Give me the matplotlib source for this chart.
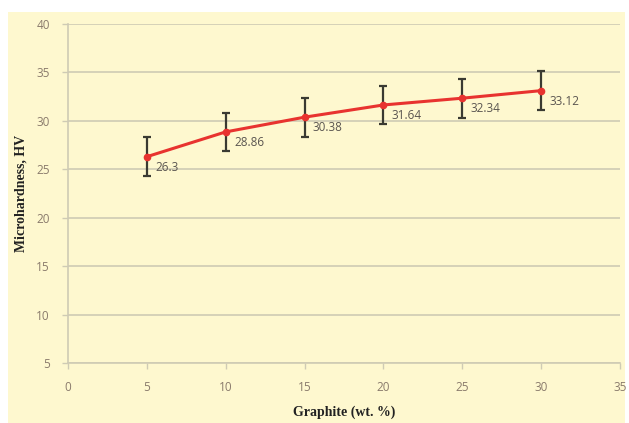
import matplotlib
matplotlib.use("Agg")
import matplotlib.pyplot as plt
from matplotlib.patches import Rectangle

graphite = [5, 10, 15, 20, 25, 30]
hardness = [26.3, 28.86, 30.38, 31.64, 32.34, 33.12]
errors = [2.0, 2.0, 2.0, 2.0, 2.0, 2.0]
value_labels = ["26.3", "28.86", "30.38", "31.64", "32.34", "33.12"]
x_ticks = [0, 5, 10, 15, 20, 25, 30, 35]
y_ticks = [5, 10, 15, 20, 25, 30, 35, 40]

W, H = 629, 423
fig = plt.figure(figsize=(W / 100, H / 100), dpi=100, facecolor="white")
bg = "#FEF8CF"
fig.patches.append(Rectangle((8 / W, 0), (625 - 8) / W, (H - 12) / H,
                             transform=fig.transFigure, facecolor=bg,
                             edgecolor="none", zorder=-10))

ax = fig.add_axes([68 / W, 1 - 363 / H, (620 - 68) / W, (363 - 24) / H])
ax.set_facecolor("none")

ax.set_xlim(0, 35)
ax.set_ylim(5, 40)
ax.set_xticks(x_ticks)
ax.set_yticks(y_ticks)

grid_c = "#CFCBB4"
ax.yaxis.grid(True, color=grid_c, linewidth=1.2)
ax.set_axisbelow(True)
for s in ["top", "right"]:
    ax.spines[s].set_visible(False)
for s in ["left", "bottom"]:
    ax.spines[s].set_color(grid_c)
    ax.spines[s].set_linewidth(1.2)

tick_c = "#8A7B6C"
ax.tick_params(axis="both", colors=grid_c, labelcolor=tick_c, length=4,
               width=1.0, labelsize=8.5)
for lab in ax.get_xticklabels() + ax.get_yticklabels():
    lab.set_family("Open Sans")
ax.tick_params(axis="x", pad=9)
ax.tick_params(axis="y", pad=9)

ax.errorbar(graphite, hardness, yerr=errors, fmt="none", ecolor="#3A3A32",
            elinewidth=1.6, capsize=3, capthick=1.6, zorder=3)
ax.plot(graphite, hardness, color="#E8332F", linewidth=2.2, marker="o",
        markersize=4.5, zorder=4)

for x, y, t in zip(graphite, hardness, value_labels):
    ax.annotate(t, (x, y), xytext=(6, -3), textcoords="offset points",
                ha="left", va="top", fontsize=8.5, color="#5A5550",
                family="Open Sans", zorder=5)

ax.set_xlabel("Graphite (wt. %)", family="Liberation Serif", fontweight="bold",
              fontsize=10, color="#222222", labelpad=8)
ax.set_ylabel("Microhardness, HV", family="Liberation Serif", fontweight="bold",
              fontsize=10, color="#222222", labelpad=6)

fig.savefig("out.png", dpi=100, facecolor="white")
